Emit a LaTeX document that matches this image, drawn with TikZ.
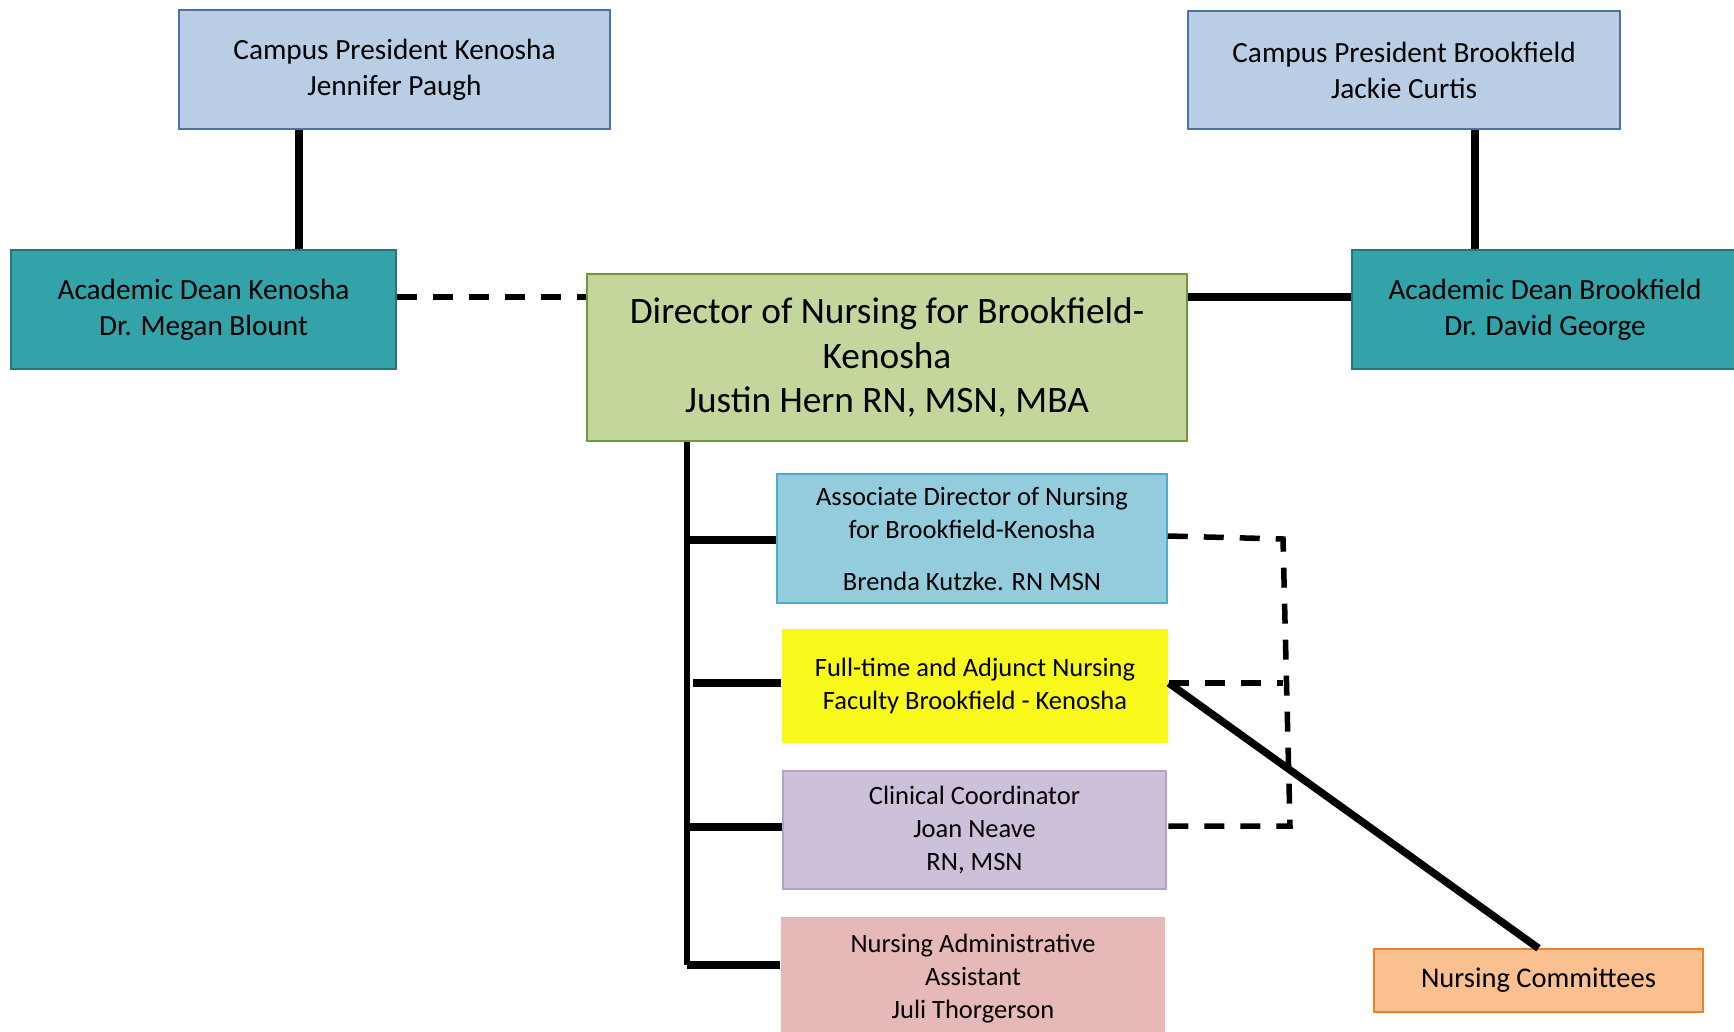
\documentclass[tikz,border=0pt]{standalone}
\usepackage{fontspec}
\setmainfont{Carlito}
\definecolor{cpfill}{HTML}{B9CDE5}
\definecolor{cpdraw}{HTML}{4A72A8}
\definecolor{adfill}{HTML}{31A3A9}
\definecolor{addraw}{HTML}{22777B}
\definecolor{dirfill}{HTML}{C3D69B}
\definecolor{dirdraw}{HTML}{77933C}
\definecolor{asfill}{HTML}{93CDDD}
\definecolor{asdraw}{HTML}{4BACC6}
\definecolor{ftfill}{HTML}{F8F81A}
\definecolor{ccfill}{HTML}{CCC0DA}
\definecolor{ccdraw}{HTML}{B3A2C7}
\definecolor{nafill}{HTML}{E6B9B8}
\definecolor{ncfill}{HTML}{FAC090}
\definecolor{ncdraw}{HTML}{F07F2A}
\tikzset{
  orgbox/.style={rectangle, inner sep=0pt, align=center, line width=1.5pt},
  big/.style={font=\fontsize{29.3}{36}\selectfont},
  mid/.style={font=\fontsize{26.5}{33}\selectfont},
  ncfont/.style={font=\fontsize{28.5}{33}\selectfont},
  huge/.style={font=\fontsize{37.3}{44.5}\selectfont},
  solidln/.style={line width=7.5pt, black},
  trunkln/.style={line width=6.5pt, black},
  dashln/.style={line width=5.5pt, black, dash pattern=on 20pt off 16pt},
}
\begin{document}
\begin{tikzpicture}[x=1pt,y=-1pt]
\useasboundingbox (0,0) rectangle (1734,1032);
\begin{scope}
\clip (0,0) rectangle (1734,1032);
\node[orgbox, big, fill=cpfill, draw=cpdraw, minimum width=431pt, minimum height=119pt] (cpk) at (394.5,69.5) {Campus President Kenosha\\Jennifer Paugh};
\node[orgbox, big, fill=cpfill, draw=cpdraw, minimum width=432pt, minimum height=118pt] (cpb) at (1404,70) {Campus President Brookfield\\Jackie Curtis};
\node[orgbox, big, fill=adfill, draw=addraw, minimum width=385pt, minimum height=119pt] (adk) at (203.5,309.5) {Academic Dean Kenosha\\Dr. Megan Blount};
\node[orgbox, big, fill=adfill, draw=addraw, minimum width=386pt, minimum height=119pt] (adb) at (1545,309.5) {Academic Dean Brookfield\\Dr. David George};
\node[orgbox, huge, fill=dirfill, draw=dirdraw, minimum width=600pt, minimum height=167pt] (dir) at (887,357.5) {Director of Nursing for Brookfield-\\Kenosha\\Justin Hern RN, MSN, MBA};
\node[orgbox, mid, fill=asfill, draw=asdraw, minimum width=390pt, minimum height=129pt] (assoc) at (972,538.5) {Associate Director of Nursing\\for Brookfield-Kenosha\\[19pt]Brenda Kutzke. RN MSN};
\node[orgbox, mid, fill=ftfill, minimum width=386pt, minimum height=114pt] (ft) at (975,686) {Full-time and Adjunct Nursing\\Faculty Brookfield - Kenosha};
\node[orgbox, mid, fill=ccfill, draw=ccdraw, minimum width=383pt, minimum height=118pt] (cc) at (974.5,830) {Clinical Coordinator\\Joan Neave\\RN, MSN};
\node[orgbox, mid, fill=nafill, minimum width=384pt, minimum height=123pt] (na) at (973,978.5) {Nursing Administrative\\Assistant\\Juli Thorgerson};
\node[orgbox, ncfont, fill=ncfill, draw=ncdraw, minimum width=329pt, minimum height=63pt] (nc) at (1538.5,980.5) {Nursing Committees};
\end{scope}

\coordinate (kx) at (299,0);
\coordinate (bx) at (1475,0);
\coordinate (hy) at (0,297);
\coordinate (tx) at (687,0);
\coordinate (tbot) at (687,965);
\coordinate (b1) at (1283,539);
\coordinate (b2) at (1290,826);
\coordinate (b3) at (1283,683);

\draw[solidln] (cpk.south -| kx) -- (adk.north -| kx);
\draw[solidln] (cpb.south -| bx) -- (adb.north -| bx);
\draw[dashln] (adk.east |- hy) -- (dir.west |- hy);
\draw[solidln] (dir.east |- hy) -- (adb.west |- hy);

\draw[trunkln] (dir.south -| tx) -- (tbot);
\draw[solidln] (687,540) coordinate (s1) -- (assoc.west |- s1);
\draw[solidln] (693,683) coordinate (s2) -- (ft.west |- s2);
\draw[solidln] (687,827) coordinate (s3) -- (cc.west |- s3);
\draw[solidln] (tbot) -- (na.west |- tbot);

\draw[dashln] (assoc.east |- 0,536) -- (b1) -- (b2) -- (cc.east |- b2);
\draw[dashln] (ft.east |- b3) -- (b3);
\draw[solidln] (ft.east |- b3) -- (nc.north);
\end{tikzpicture}
\end{document}
